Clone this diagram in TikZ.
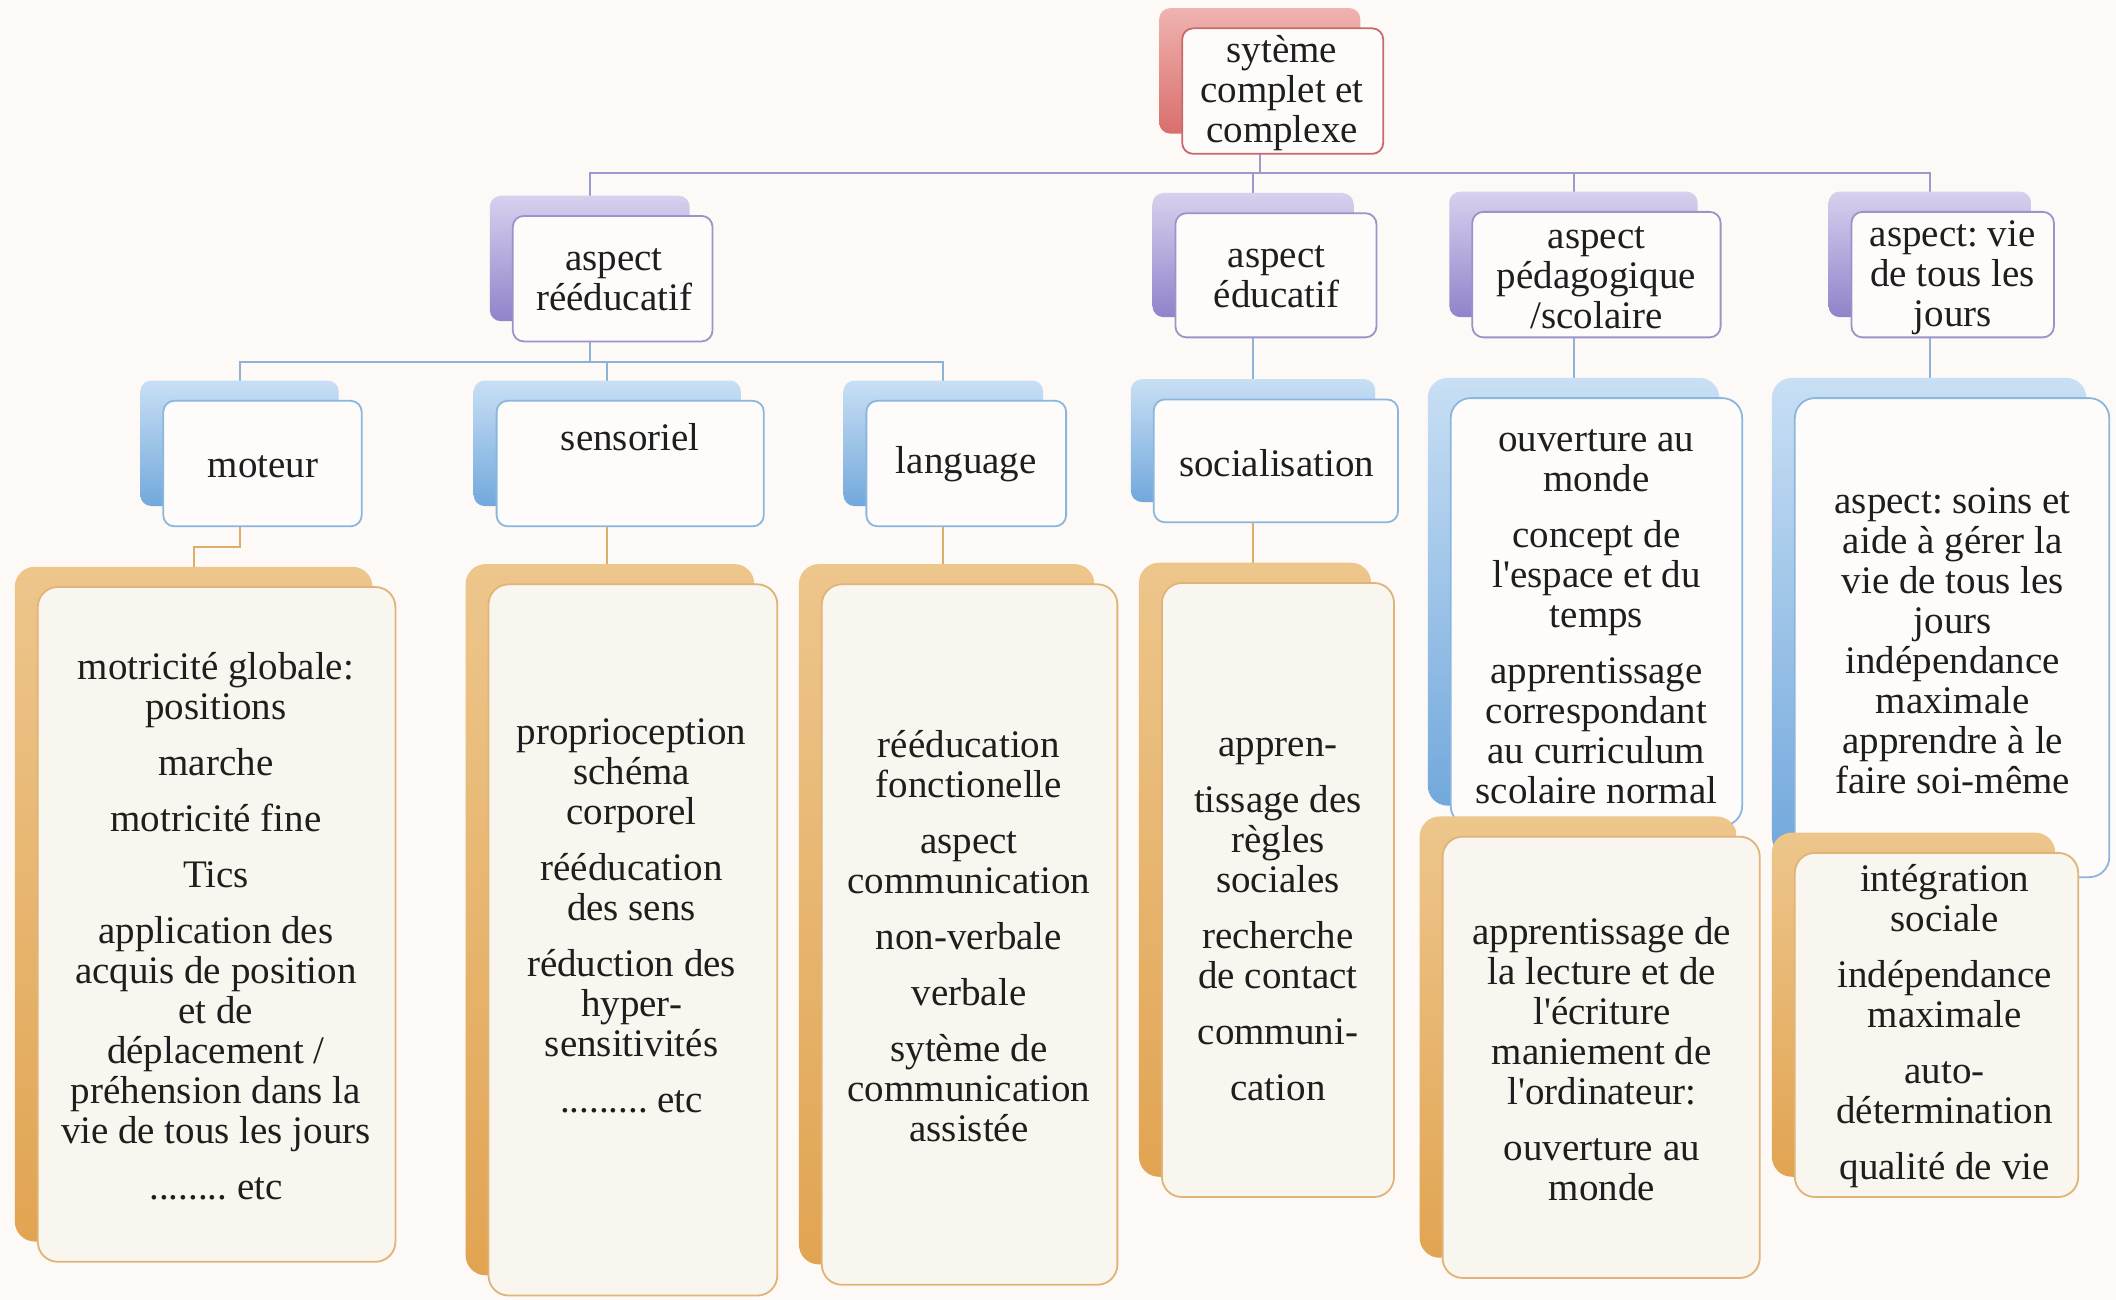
\documentclass[tikz,border=0pt]{standalone}
\usepackage{fontspec}
\setmainfont{Liberation Serif}[Ligatures=TeXOff]
\usetikzlibrary{fit}
\frenchspacing
\definecolor{bgc}{HTML}{FCF9F6}
\definecolor{redtop}{HTML}{EFB3B0}
\definecolor{redbot}{HTML}{DA6E6C}
\definecolor{redline}{HTML}{C86A6A}
\definecolor{purtop}{HTML}{D8D0EE}
\definecolor{purbot}{HTML}{9282CA}
\definecolor{purline}{HTML}{9D93C9}
\definecolor{blutop}{HTML}{C8DFF4}
\definecolor{blubot}{HTML}{72A8DC}
\definecolor{bluline}{HTML}{8BB7DE}
\definecolor{oratop}{HTML}{EDC68C}
\definecolor{orabot}{HTML}{E1A452}
\definecolor{oraline}{HTML}{E0B478}
\definecolor{frontfill}{HTML}{FEFCFA}
\definecolor{orafill}{HTML}{F9F5EF}
\definecolor{txtc}{HTML}{1E1E1E}
\definecolor{busp}{HTML}{9C9ACA}
\definecolor{busb}{HTML}{8EB2D6}
\definecolor{buso}{HTML}{DCAE6C}
\pgfdeclarelayer{backl}
\pgfdeclarelayer{linesl}
\pgfsetlayers{backl,linesl,main}
\newcommand\card[6]{%
  \node[fit={(#2-17,#3-15) (#4-17,#5-15)},#6sh] (#1s) {};
  \node[fit={(#2,#3) (#4,#5)},#6fr] (#1) {};
}
\begin{document}
\begin{tikzpicture}[x=0.67475pt,y=-0.67475pt,
  cardbase/.style={inner sep=0pt, outer sep=0pt, rounded corners=5.5pt},
  bigbase/.style={inner sep=0pt, outer sep=0pt, rounded corners=10pt},
  redsh/.style={cardbase, top color=redtop, bottom color=redbot, draw=none},
  redfr/.style={cardbase, fill=frontfill, draw=redline, line width=0.9pt},
  pursh/.style={cardbase, top color=purtop, bottom color=purbot, draw=none},
  purfr/.style={cardbase, fill=frontfill, draw=purline, line width=0.9pt},
  blush/.style={cardbase, top color=blutop, bottom color=blubot, draw=none},
  blufr/.style={cardbase, fill=frontfill, draw=bluline, line width=0.9pt},
  bigblush/.style={bigbase, top color=blutop, bottom color=blubot, draw=none},
  bigblufr/.style={bigbase, fill=frontfill, draw=bluline, line width=0.9pt},
  orash/.style={bigbase, top color=oratop, bottom color=orabot, draw=none},
  orafr/.style={bigbase, fill=orafill, draw=oraline, line width=0.9pt},
  txt/.style={align=center, inner sep=0pt, text=txtc, font=\fontsize{19.5}{20}\selectfont},
  lnpur/.style={draw=busp, line width=1pt},
  lnblu/.style={draw=busb, line width=1pt},
  lnora/.style={draw=buso, line width=1pt}
]
\useasboundingbox (0,0) rectangle (1568,963);
\begin{pgfonlayer}{backl}
\fill[bgc] (0,0) rectangle (1568,963);
\end{pgfonlayer}

% level 0 and 1
\card{root}{876}{21}{1025}{114}{red}
\card{A1}{380}{160}{528}{253}{pur}
\card{A2}{871}{158}{1020}{250}{pur}
\card{A3}{1091}{157}{1275}{250}{pur}
\card{A4}{1372}{157}{1522}{250}{pur}
% level 2
\card{mot}{121}{297}{268}{390}{blu}
\card{sen}{368}{297}{566}{390}{blu}
\card{lan}{642}{297}{790}{390}{blu}
\card{soc}{855}{296}{1036}{387}{blu}
\card{B3}{1075}{295}{1291}{612}{bigblu}
\card{B4}{1330}{295}{1563}{650}{bigblu}
% level 3
\card{O1}{28}{435}{293}{935}{ora}
\card{O2}{362}{433}{576}{960}{ora}
\card{O3}{609}{433}{828}{952}{ora}
\card{O4}{861}{432}{1033}{887}{ora}
\card{O5}{1069}{620}{1304}{947}{ora}
\card{O6}{1330}{632}{1540}{887}{ora}

% connectors
\coordinate (bus1) at (0,128);
\coordinate (bus2) at (0,268);
\coordinate (rootB) at (roots |- root.south);
\coordinate (A1B) at (A1s |- A1.south);
\coordinate (motB) at (mots |- mot.south);
\begin{pgfonlayer}{linesl}
\draw[lnpur] (rootB) -- (rootB |- bus1) -| (A1s.north);
\draw[lnpur] (rootB) -- (rootB |- bus1) -| (A2s.north);
\draw[lnpur] (rootB) -- (rootB |- bus1) -| (A3s.north);
\draw[lnpur] (rootB) -- (rootB |- bus1) -| (A4s.north);
\draw[lnblu] (A1B) -- (A1B |- bus2) -| (mots.north);
\draw[lnblu] (A1B) -- (A1B |- bus2) -| (sens.north);
\draw[lnblu] (A1B) -- (A1B |- bus2) -| (lans.north);
\draw[lnblu] (A2s |- A2.south) -- (A2s |- socs.north);
\draw[lnblu] (A3s |- A3.south) -- (A3s |- B3s.north);
\draw[lnblu] (A4s |- A4.south) -- (A4s |- B4s.north);
\draw[lnora] (motB) -- ++(0,15) -| (O1s.north);
\draw[lnora] (sens |- sen.south) -- (sens |- O2s.north);
\draw[lnora] (lans |- lan.south) -- (lans |- O3s.north);
\draw[lnora] (socs |- soc.south) -- (socs |- O4s.north);
\end{pgfonlayer}

% texts
\node[txt] (troot) at (950,69) {sytème\\complet et\\complexe};
\node[txt] (tA1) at (455,207) {aspect\\rééducatif};
\node[txt] (tA2) at (946,205) {aspect\\éducatif};
\node[txt] (tA3) at (1183,205.5) {aspect\\pédagogique\\/scolaire};
\node[txt] (tA4) at (1447,205.5) {aspect: vie\\de tous les\\jours};
\node[txt] (tmot) at (195,346) {moteur};
\node[txt] (tsen) at (467,324) {sensoriel};
\node[txt] (tlan) at (716,344) {language};
\node[txt] (tsoc) at (946,343) {socialisation};
\node[txt] (tB3) at (1183,457) {ouverture au\\monde\\[8pt]concept de\\l'espace et du\\temps\\[8pt]apprentissage\\correspondant\\au curriculum\\scolaire normal};
\node[txt] (tB4) at (1447,475) {aspect: soins et\\aide à gérer la\\vie de tous les\\jours\\indépendance\\maximale\\apprendre à le\\faire soi-même};
\node[txt] (tO1) at (160,686) {motricité globale:\\positions\\[8pt]marche\\[8pt]motricité fine\\[8pt]Tics\\[8pt]application des\\acquis de position\\et de\\déplacement /\\préhension dans la\\vie de tous les jours\\[8pt]........ etc};
\node[txt] (tO2) at (468,678.5) {proprioception\\schéma\\corporel\\[8pt]rééducation\\des sens\\[8pt]réduction des\\hyper-\\sensitivités\\[8pt]......... etc};
\node[txt] (tO3) at (718,693.5) {rééducation\\fonctionelle\\[8pt]aspect\\communication\\[8pt]non-verbale\\[8pt]verbale\\[8pt]sytème de\\communication\\assistée};
\node[txt] (tO4) at (947,681.5) {appren-\\[8pt]tissage des\\règles\\sociales\\[8pt]recherche\\de contact\\[8pt]communi-\\[8pt]cation};
\node[txt] (tO5) at (1187,785) {apprentissage de\\la lecture et de\\l'écriture\\maniement de\\l'ordinateur:\\[8pt]ouverture au\\monde};
\node[txt] (tO6) at (1441,760.5) {intégration\\sociale\\[8pt]indépendance\\maximale\\[8pt]auto-\\détermination\\[8pt]qualité de vie};
\end{tikzpicture}
\end{document}
